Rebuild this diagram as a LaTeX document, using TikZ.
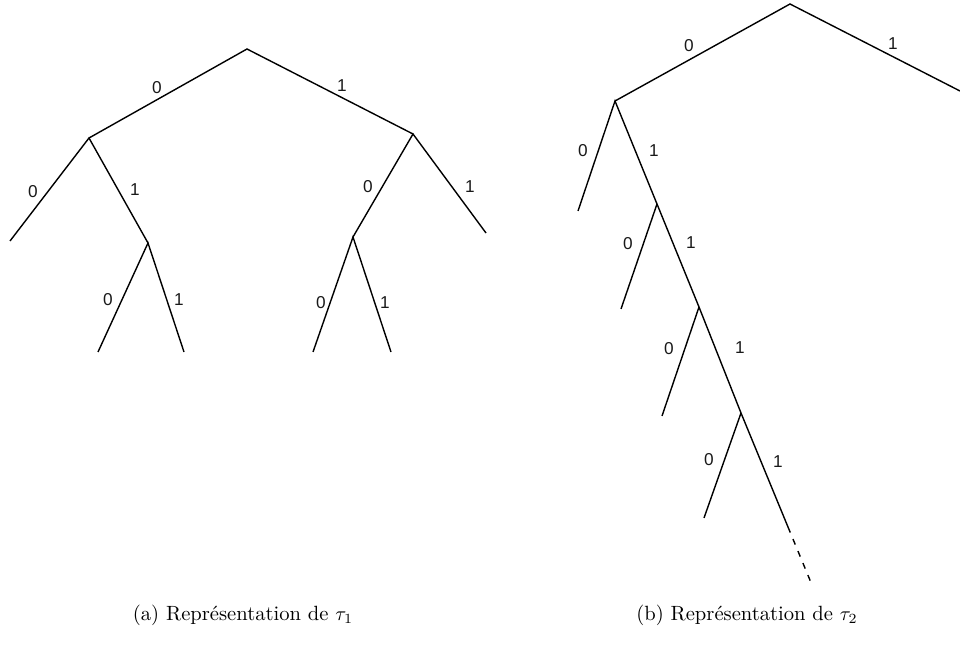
\documentclass[tikz,border=0pt]{standalone}
\usepackage{fontspec}
\newfontfamily\lblfont{Liberation Sans}
\begin{document}
\begin{tikzpicture}[x=0.5pt,y=-0.5pt,
  edge/.style={line width=0.7pt,draw=black},
  bit/.style={font=\lblfont\fontsize{8.6}{9}\selectfont,text=black!90,inner sep=0pt},
  capt/.style={font=\fontsize{10.3}{12}\selectfont,inner sep=0pt,anchor=base}]
\useasboundingbox (0,0) rectangle (960,647);
% ---------- tree tau_1 ----------
\coordinate (r) at (247,49);
\coordinate (a0) at (89,138);
\coordinate (a1) at (413,134);
\coordinate (a00) at (10,241);
\coordinate (a01) at (148,243);
\coordinate (a010) at (98,352);
\coordinate (a011) at (184,352);
\coordinate (a10) at (353,237);
\coordinate (a11) at (486,233);
\coordinate (a100) at (313,352);
\coordinate (a101) at (391,352);
\draw[edge] (a0) -- (r) -- (a1);
\draw[edge] (a00) -- (a0) -- (a01);
\draw[edge] (a010) -- (a01) -- (a011);
\draw[edge] (a10) -- (a1) -- (a11);
\draw[edge] (a100) -- (a10) -- (a101);
\node[bit] (l1) at (157,88) {0};
\node[bit] (l2) at (342,86) {1};
\node[bit] (l3) at (33,192) {0};
\node[bit] (l4) at (135,190) {1};
\node[bit] (l5) at (108,300) {0};
\node[bit] (l6) at (179,300) {1};
\node[bit] (l7) at (368,187) {0};
\node[bit] (l8) at (470,187) {1};
\node[bit] (l9) at (321,303) {0};
\node[bit] (l10) at (385,303) {1};
% ---------- tree tau_2 ----------
\coordinate (s) at (790,4);
\coordinate (sR) at (960,91);
\coordinate (b1) at (615,101);
\coordinate (b1l) at (578,211);
\coordinate (b2) at (657,204);
\coordinate (b2l) at (621,309);
\coordinate (b3) at (699,307);
\coordinate (b3l) at (662,416);
\coordinate (b4) at (741,413);
\coordinate (b4l) at (704,518);
\coordinate (b5) at (788,527);
\coordinate (b6) at (812,585);
\draw[edge] (b1) -- (s) -- (sR);
\draw[edge] (b1l) -- (b1) -- (b2) -- (b3) -- (b4) -- (b5);
\draw[edge] (b2l) -- (b2);
\draw[edge] (b3l) -- (b3);
\draw[edge] (b4l) -- (b4);
\draw[edge,dash pattern=on 3 off 3.5] (b5) -- (b6);
\node[bit] (m1) at (689,46) {0};
\node[bit] (m2) at (893,44) {1};
\node[bit] (m3) at (583,151) {0};
\node[bit] (m4) at (654,151) {1};
\node[bit] (m5) at (628,244) {0};
\node[bit] (m6) at (691,243) {1};
\node[bit] (m7) at (669,349) {0};
\node[bit] (m8) at (740,348) {1};
\node[bit] (m9) at (709,460) {0};
\node[bit] (m10) at (778,462) {1};
% ---------- captions ----------
\node[capt] (ca) at (243,620) {(a) Représentation de $\tau_1$};
\node[capt] (cb) at (747,620) {(b) Représentation de $\tau_2$};
\end{tikzpicture}
\end{document}
